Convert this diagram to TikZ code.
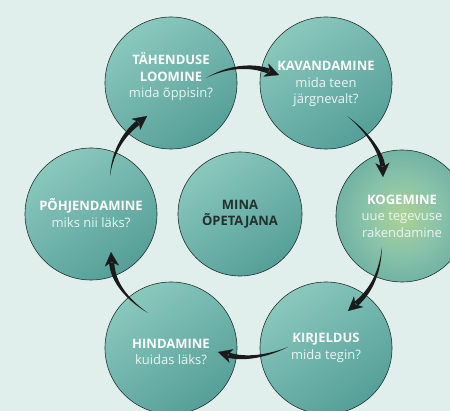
\documentclass[tikz,border=0pt]{standalone}
\usepackage{fontspec}
\setmainfont{Open Sans}
\usetikzlibrary{calc,arrows.meta}

\definecolor{bgmint}{HTML}{E0EFEB}
\definecolor{tealtop}{HTML}{8AC8BD}
\definecolor{tealbot}{HTML}{559F98}
\definecolor{rimcol}{HTML}{22302E}
\definecolor{arrowcol}{HTML}{1A1A1A}
\definecolor{subtext}{HTML}{EAF5F2}
\definecolor{glowc}{HTML}{ADD292}
\definecolor{glowm}{HTML}{8AC3AA}
\definecolor{glowo}{HTML}{5AA39B}

\pgfdeclareradialshading{glowshade}{\pgfpoint{0bp}{0bp}}{%
  color(0bp)=(glowc); color(14bp)=(glowm); color(36bp)=(glowo); color(50bp)=(glowo)}

\tikzset{
  cyc/.style={circle, draw=rimcol, line width=0.6pt, minimum size=132pt,
    inner sep=0pt, shading=axis, top color=tealtop, bottom color=tealbot,
    shading angle=35},
  glowcyc/.style={cyc, shading=glowshade},
  lbl/.style={align=center, text=white, inner sep=0pt,
    font=\fontsize{13}{16.5}\selectfont},
}

% curved arrow whose body widens from a point at the tail to the head
\newcommand\taperarrow[4]{%
  \coordinate (ta-s) at #1;
  \coordinate (ta-a) at #2;
  \coordinate (ta-b) at #3;
  \coordinate (ta-t) at #4;
  \coordinate (ta-e) at ($(ta-t)!11pt!(ta-b)$);
  \fill[arrowcol] (ta-s)
    .. controls ($(ta-a)!1.1pt!90:(ta-b)$) and ($(ta-b)!2.1pt!90:(ta-e)$)
    .. ($(ta-e)!2.6pt!-90:(ta-b)$)
    -- ($(ta-e)!2.6pt!90:(ta-b)$)
    .. controls ($(ta-b)!2.1pt!-90:(ta-e)$) and ($(ta-a)!1.1pt!-90:(ta-b)$)
    .. (ta-s) -- cycle;
  \draw[arrowcol, line width=0.2pt,
    -{Stealth[length=14pt, width=14pt, inset=4pt]}]
    ($(ta-e)!1.5pt!(ta-b)$) -- (ta-t);
}

\begin{document}
\begin{tikzpicture}[x=1pt, y=-1pt]
  \useasboundingbox (0,0) rectangle (450,411);
  \fill[bgmint] (0,0) rectangle (450,411);
  \begin{scope}
    \clip (0,0) rectangle (450,411);

    % circles of the cycle and the one in the middle
    \node[cyc] (t) at (171,83) {};
    \node[cyc] (k) at (326,83) {};
    \node[glowcyc] (g) at (402,216) {};
    \node[cyc] (r) at (326,348) {};
    \node[cyc] (h) at (171,348) {};
    \node[cyc] (p) at (91,214) {};
    \node[cyc, minimum size=124pt] (m) at (240,214) {};

    % their texts
    \node[lbl] (t-txt) at ($(t)+(0,-6)$) {\textbf{TÄHENDUSE}\\\textbf{LOOMINE}\\\textcolor{subtext}{mida õppisin?}};
    \node[lbl] (k-txt) at ($(k)+(0,1)$) {\textbf{KAVANDAMINE}\\\textcolor{subtext}{mida teen}\\\textcolor{subtext}{järgnevalt?}};
    \node[lbl] (g-txt) at (g) {\textbf{KOGEMINE}\\\textcolor{subtext}{uue tegevuse}\\\textcolor{subtext}{rakendamine}};
    \node[lbl] (r-txt) at ($(r)+(0,0)$) {\textbf{KIRJELDUS}\\\textcolor{subtext}{mida tegin?}};
    \node[lbl] (h-txt) at ($(h)+(0,4)$) {\textbf{HINDAMINE}\\\textcolor{subtext}{kuidas läks?}};
    \node[lbl] (p-txt) at ($(p)+(0,-1)$) {\textbf{PÕHJENDAMINE}\\\textcolor{subtext}{miks nii läks?}};
    \node[lbl, text=rimcol] (m-txt) at (m) {\textbf{MINA}\\\textbf{ÕPETAJANA}};

    % arrows running round the cycle
    \taperarrow{($(t)+(35,-5)$)}{($(t)+(55,-16)$)}{($(t)+(79,-19)$)}{($(k)+(-47,-8)$)}
    \taperarrow{($(k)+(21,33)$)}{($(k)+(41,48)$)}{($(k)+(56,70)$)}{($(g)+(-19,-39)$)}
    \taperarrow{($(g)+(-20,31)$)}{($(g)+(-22,56)$)}{($(g)+(-30,74)$)}{($(r)+(22,-37)$)}
    \taperarrow{($(r)+(-38,-1)$)}{($(r)+(-58,8)$)}{($(r)+(-81,12)$)}{($(h)+(47,4)$)}
    \taperarrow{($(h)+(-23,-35)$)}{($(h)+(-43,-48)$)}{($(h)+(-58,-65)$)}{($(p)+(20,38)$)}
    \taperarrow{($(p)+(19,-38)$)}{($(p)+(21,-59)$)}{($(p)+(31,-79)$)}{($(t)+(-24,33)$)}
  \end{scope}
\end{tikzpicture}
\end{document}
